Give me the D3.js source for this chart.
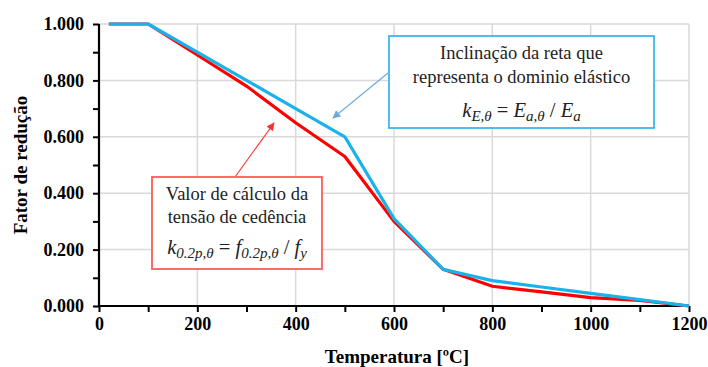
<!DOCTYPE html>
<html>
<head>
<meta charset="utf-8">
<script src="https://cdn.jsdelivr.net/npm/d3@7"></script>
</head>
<body style="margin:0;background:#fff">
<svg id="chart" width="708" height="367" style="display:block"></svg>
<script>
// Temperatures (°C) and steel reduction factors
const temperatures = [20, 100, 200, 300, 400, 500, 600, 700, 800, 900, 1000, 1100, 1200];
const kYield   = [1.000, 1.000, 0.890, 0.780, 0.650, 0.530, 0.300, 0.130, 0.070, 0.050, 0.030, 0.020, 0.000];
const kElastic = [1.000, 1.000, 0.900, 0.800, 0.700, 0.600, 0.310, 0.130, 0.090, 0.0675, 0.045, 0.0225, 0.000];
const xTicks = [0, 200, 400, 600, 800, 1000, 1200];
const yTicks = [0, 0.2, 0.4, 0.6, 0.8, 1.0];

const SERIF = "'Liberation Serif'";
const svg = d3.select("#chart");
const x = d3.scaleLinear().domain([0, 1200]).range([99, 689]);
const y = d3.scaleLinear().domain([0, 1]).range([306, 24]);

// grid
const grid = svg.append("g").attr("stroke", "#d9d9d9").attr("stroke-width", 1.5);
xTicks.filter(d => d > 0).forEach(d => grid.append("line")
  .attr("x1", x(d)).attr("x2", x(d)).attr("y1", y(0)).attr("y2", y(1)));
yTicks.filter(d => d > 0).forEach(d => grid.append("line")
  .attr("x1", x(0)).attr("x2", x(1200)).attr("y1", y(d)).attr("y2", y(d)));

// axes
const fmtY = d3.format(".3f");
const xAxis = svg.append("g").attr("transform", `translate(0,${y(0)})`)
  .call(d3.axisBottom(x).tickValues(d3.range(0, 1201, 100)).tickSize(6)
    .tickFormat(d => xTicks.includes(d) ? d : ""));
const yAxis = svg.append("g").attr("transform", `translate(${x(0)},0)`)
  .call(d3.axisLeft(y).tickValues(d3.range(0, 11).map(i => i / 10)).tickSize(6)
    .tickFormat(d => (Math.round(d * 10) % 2 === 0) ? fmtY(d) : ""));
[xAxis, yAxis].forEach(g => {
  g.attr("font-family", null).attr("font-size", null);
  g.select(".domain").attr("stroke", "#000").attr("stroke-width", 2.2);
  g.selectAll(".tick line").attr("stroke", "#000").attr("stroke-width", 2);
  g.selectAll("text").attr("fill", "#000").style("font-family", SERIF)
    .style("font-weight", "bold").style("font-size", "18px");
});
xAxis.select(".domain").attr("d", `M${x(0)},0H${x(1200)}`);
yAxis.select(".domain").attr("d", `M0,${y(0)}V${y(1)}`);
xAxis.selectAll("text").attr("dy", "0.9em").attr("y", 8);
yAxis.selectAll("text").attr("x", -15);

// series
const line = d3.line().x((d, i) => x(temperatures[i])).y(d => y(d));
svg.append("path").datum(kYield).attr("d", line)
  .attr("fill", "none").attr("stroke", "#ff0000").attr("stroke-width", 3.2).attr("stroke-linejoin", "round");
svg.append("path").datum(kElastic).attr("d", line)
  .attr("fill", "none").attr("stroke", "#1ab2ea").attr("stroke-width", 3.2).attr("stroke-linejoin", "round");

// axis titles
svg.append("text").attr("x", 397).attr("y", 363).attr("text-anchor", "middle")
  .style("font-family", SERIF).style("font-weight", "bold").style("font-size", "19px")
  .text("Temperatura [ºC]");
svg.append("text").attr("transform", "translate(27,165) rotate(-90)").attr("text-anchor", "middle")
  .style("font-family", SERIF).style("font-weight", "bold").style("font-size", "19px")
  .text("Fator de redução");

// arrow markers
const defs = svg.append("defs");
function marker(id, color) {
  defs.append("marker").attr("id", id).attr("viewBox", "0 0 10 10")
    .attr("refX", 9).attr("refY", 5).attr("markerWidth", 10).attr("markerHeight", 8)
    .attr("markerUnits", "userSpaceOnUse").attr("orient", "auto")
    .append("path").attr("d", "M0,0L10,5L0,10Z").attr("fill", color);
}
marker("arrBlue", "#6fa8dc");
marker("arrRed", "#ff3030");

svg.append("line").attr("x1", 388).attr("y1", 73).attr("x2", 333).attr("y2", 118)
  .attr("stroke", "#6fa8dc").attr("stroke-width", 1.1).attr("marker-end", "url(#arrBlue)");
svg.append("line").attr("x1", 235).attr("y1", 177).attr("x2", 274).attr("y2", 123)
  .attr("stroke", "#ff3030").attr("stroke-width", 1.1).attr("marker-end", "url(#arrRed)");

// annotation boxes
function box(x0, y0, w, h, color, lines, lineYs, formula, formulaY) {
  const g = svg.append("g");
  g.append("rect").attr("x", x0).attr("y", y0).attr("width", w).attr("height", h)
    .attr("fill", "#fff").attr("stroke", color).attr("stroke-width", 1.8);
  const cx = x0 + w / 2;
  lines.forEach((t, i) => g.append("text").attr("x", cx).attr("y", lineYs[i])
    .attr("text-anchor", "middle").attr("fill", "#222")
    .style("font-family", SERIF).style("font-size", "18.5px").text(t));
  const ft = g.append("text").attr("x", cx).attr("y", formulaY).attr("text-anchor", "middle")
    .attr("fill", "#222").style("font-family", SERIF).style("font-size", "20.5px");
  formula.forEach(p => {
    const s = ft.append("tspan").text(p.t).style("font-style", p.i ? "italic" : "normal");
    if (p.sub) s.style("font-size", "15px").attr("dy", 4);
    if (p.up) s.attr("dy", -4);
  });
}

box(389, 36, 265, 92, "#3bb8ec",
  ["Inclinação da reta que", "representa o dominio elástico"], [59, 83],
  [{t: "k", i: true}, {t: "E,θ", i: true, sub: true}, {t: " = ", up: true}, {t: "E", i: true},
   {t: "a,θ", i: true, sub: true}, {t: " / ", up: true}, {t: "E", i: true}, {t: "a", i: true, sub: true}],
  117);

box(152, 177, 170, 92, "#ff5a5a",
  ["Valor de cálculo da", "tensão de cedência"], [200, 223],
  [{t: "k", i: true}, {t: "0.2p,θ", i: true, sub: true}, {t: " = ", up: true}, {t: "f", i: true},
   {t: "0.2p,θ", i: true, sub: true}, {t: " / ", up: true}, {t: "f", i: true}, {t: "y", i: true, sub: true}],
  254);
</script>
</body>
</html>
